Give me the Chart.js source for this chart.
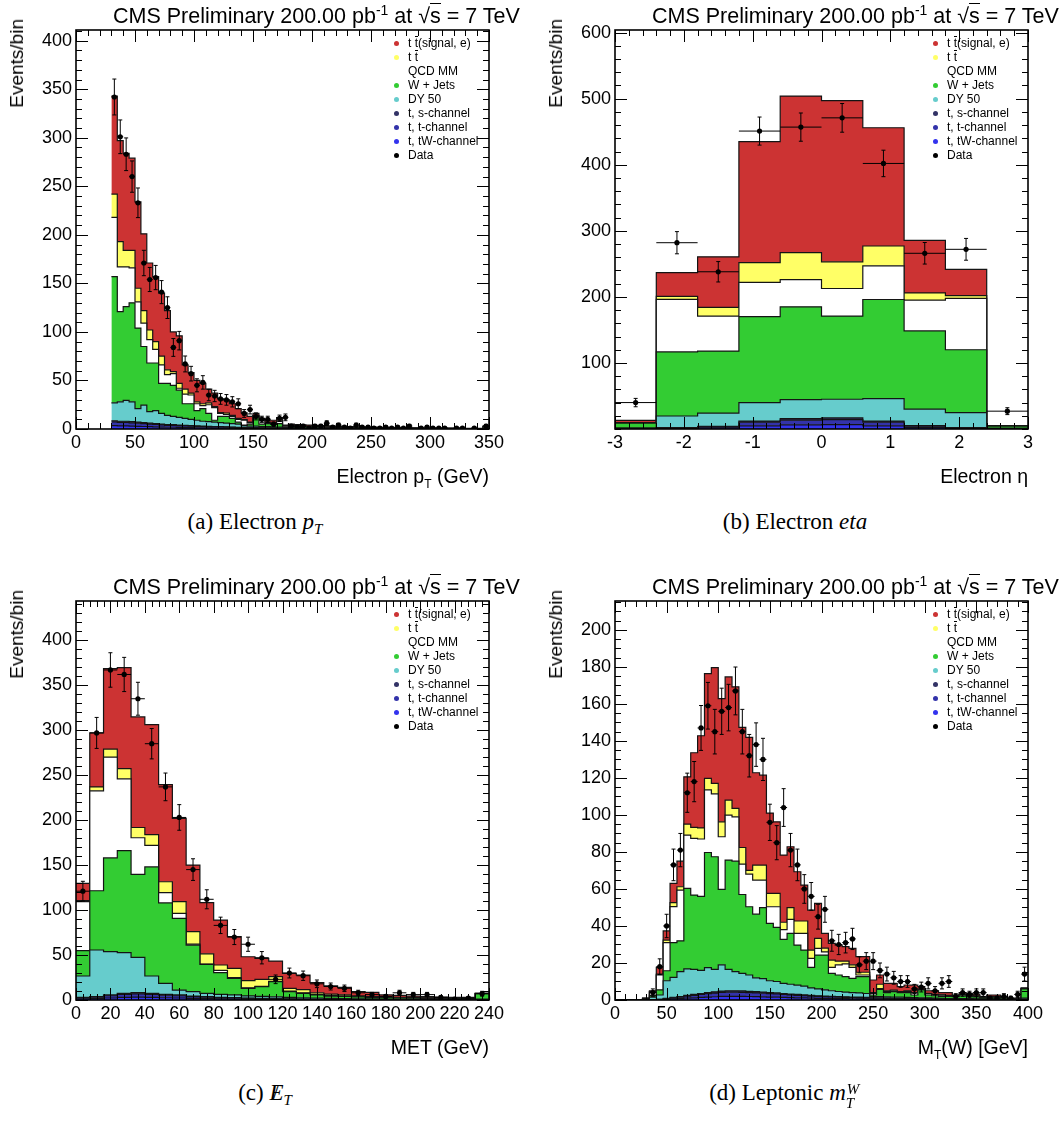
<!DOCTYPE html>
<html>
<head>
<meta charset="utf-8">
<title>CMS Preliminary – electron + jets control plots</title>
<script src="https://cdn.jsdelivr.net/npm/chart.js@4/dist/chart.umd.min.js"></script>
<style>
html,body{margin:0;padding:0;background:#fff;}
body{width:1063px;height:1123px;position:relative;overflow:hidden;font-family:"Liberation Sans",Arial,Helvetica,sans-serif;color:#000;}
.panel{position:absolute;width:531px;height:552px;}
.panel canvas{position:absolute;left:0;top:0;}
.ptitle{position:absolute;left:113px;top:4px;font-size:21.5px;line-height:25px;white-space:nowrap;}
.ptitle .sup{font-size:14px;position:relative;top:-8px;}
.ptitle .rad{border-top:1.5px solid #000;}
.ytitle{position:absolute;left:7px;top:19px;font-size:19px;line-height:20px;writing-mode:vertical-rl;transform:rotate(180deg);white-space:nowrap;}
.xtitle{position:absolute;right:42px;top:465px;font-size:19.5px;line-height:22px;white-space:nowrap;}
.xtitle .sb{font-size:12px;position:relative;top:5px;}
.li{position:absolute;left:408px;font-size:12px;line-height:14px;white-space:nowrap;}
.ov{display:inline-block;position:relative;}
.ov::before{content:"";position:absolute;left:0;right:0;top:0;border-top:1px solid #000;}
.dot{position:absolute;width:5px;height:5px;border-radius:50%;}
.cap{position:absolute;top:508px;font-family:"Liberation Serif","Times New Roman",serif;font-size:23px;line-height:28px;white-space:nowrap;transform:translateX(-50%);}
.cap .csb{font-size:15px;position:relative;top:5px;}
.cap .ss{display:inline-block;position:relative;width:15px;height:10px;}
.cap .ss .u{position:absolute;left:1px;top:-15px;font-size:15px;}
.cap .ss .d{position:absolute;left:0;top:-1px;font-size:15px;}
.cap .met{position:relative;display:inline-block;}
.cap .met .sl{position:absolute;left:3px;top:0;}
</style>
</head>
<body>
<script>
// ---------------- shared series definitions ----------------
const seriesNames = ['t t\u0304(signal, e)', 't t\u0304', 'QCD MM', 'W + Jets', 'DY 50', 't, s-channel', 't, t-channel', 't, tW-channel'];
const seriesColors = ['#cc3333', '#ffff66', '#ffffff', '#33cc33', '#66cccc', '#333366', '#3333aa', '#3333ee'];
const dataName = 'Data';
const plotTitle = 'CMS Preliminary 200.00 pb<span class="sup">-1</span> at \u221A<span class="rad">s</span> = 7 TeV';

// ---------------- (a) Electron pT : 5 GeV bins from 30 to 350 ----------------
const ptBinLow = 30, ptBinWidth = 5;
const ptXTicks = [0, 50, 100, 150, 200, 250, 300, 350];
const ptYTicks = [0, 50, 100, 150, 200, 250, 300, 350, 400];
const ptSignal = [101,104,100,95,89,79,69,67,65,61,41,49,25,21,22,21,14,14,14,13.5,12,10,7,6,2,1.4,2,3,2.7,0.8,
  1.5,1.4,1.3,1.2,1.1,1.0,1.0,0.9,0.9,0.8,0.7,0.7,0.6,0.6,0.6,0.5,0.5,0.5,0.4,0.4,0.4,0.3,0.3,0.3,0.3,0.3,0.3,0.2,0.2,0.2,0.2,0.2,0.2,0.6];
const ptTTbar = [24,26,17,18,14,13,10,8,9,5,2,5,5,2,2,2,2,1,1,1.5,1,1,0.6,0.5,0.3,0.6,0.5,0.5,1,0.2,
  0.3,0.3,0.2,0.2,0.2,0.2,0.2,0.2,0.1,0.1,0.1,0.1,0.1,0.1,0.1,0.1,0.1,0.1,0.1,0.1,0.1,0.1,0.05,0.05,0.05,0.05,0.05,0.05,0.05,0.05,0.05,0.05,0.05,0.1];
const ptQCD = [61,46,41,36,27,24,24,14,19,9,12,2,10,9,7,3,9,13,3,2,2,3,5,1.5,1.3,4,1,0.7,2.5,1,
  0.5,0.4,0.4,0.4,0.3,0.3,0.3,0.3,0.3,0.2,0.2,0.2,0.2,0.2,0.2,0.2,0.2,0.1,0.1,0.1,0.1,0.1,0.1,0.1,0.1,0.1,0.1,0.1,0.1,0.1,0.1,0.1,0.1,0.3];
const ptWJets = [130,93,96.5,102,83,60.5,50,49,31,33,32,28,15,16,10,13,8.5,2,6.5,7,5.5,2,0.5,2,9.4,2.5,3,2.8,3.5,0.5,
  1.6,1.5,1.4,1.3,1.2,1.1,1.0,1.0,0.9,0.9,0.8,0.7,0.7,0.7,0.6,0.6,0.6,0.5,0.5,0.5,0.4,0.4,0.4,0.3,0.3,0.3,0.3,0.3,0.3,0.2,0.2,0.2,0.2,1.7];
const ptDY = [18.5,20,21.5,20.5,14,18,12,13.5,11,9.5,8.5,8,7.2,6.5,5.8,5,4.7,4.4,4.1,3.8,3.5,3.2,1.9,1.5,1.6,1.2,1.3,0.9,1,0.6,
  0.6,0.5,0.5,0.5,0.5,0.4,0.4,0.3,0.3,0.3,0.3,0.3,0.3,0.2,0.2,0.2,0.2,0.2,0.2,0.2,0.2,0.1,0.1,0.1,0.1,0.1,0.1,0.1,0.1,0.1,0.1,0.05,0.05,0.3];
const ptTopS = [1.3,1.2,1.2,1.1,1.0,1.0,0.9,0.8,0.8,0.7,0.7,0.6,0.6,0.5,0.5,0.45,0.4,0.4,0.35,0.3,0.3,0.27,0.24,0.22,0.2,0.2,0.18,0.16,0.15,0.14,
  0.08,0.08,0.08,0.06,0.06,0.06,0.05,0.05,0.05,0.05,0.05,0.03,0.03,0.03,0.03,0.03,0.02,0.02,0.02,0.02,0.02,0.02,0.02,0.02,0.02,0.01,0.01,0.01,0.01,0.01,0.01,0.01,0.01,0.03];
const ptTopT = [3.8,3.6,3.6,3.4,3.2,2.9,2.7,2.5,2.3,2.0,2.0,1.8,1.7,1.6,1.4,1.35,1.25,1.2,1.1,1.0,0.9,0.8,0.7,0.68,0.63,0.6,0.54,0.5,0.45,0.4,
  0.22,0.22,0.22,0.18,0.18,0.18,0.13,0.13,0.13,0.13,0.13,0.09,0.09,0.09,0.09,0.09,0.04,0.04,0.04,0.04,0.04,0.04,0.04,0.04,0.04,0.02,0.02,0.02,0.02,0.02,0.02,0.02,0.02,0.09];
const ptTopTW = [3.4,3.2,3.2,3.0,2.8,2.6,2.4,2.2,1.9,1.8,1.8,1.6,1.5,1.4,1.3,1.2,1.15,1.0,0.95,0.9,0.8,0.73,0.66,0.6,0.57,0.5,0.48,0.44,0.4,0.36,
  0.2,0.2,0.2,0.16,0.16,0.16,0.12,0.12,0.12,0.12,0.12,0.08,0.08,0.08,0.08,0.08,0.04,0.04,0.04,0.04,0.04,0.04,0.04,0.04,0.04,0.02,0.02,0.02,0.02,0.02,0.02,0.02,0.02,0.08];
const ptData = [342,301,283,260,233,171,154,156,141,125,84,91,67,57,45,48,35,34,31,30,28,26,16,20,13,10,10,5,11,12,
  3,2,3,1,3,3,6,2,4,2,1,4,2,2,1,1,2,1,2,1,3,null,1,2,1,1,1,null,1,1,null,1,null,3];

// ---------------- (b) Electron eta : 10 bins ----------------
const etaEdges = [-3, -2.4, -1.8, -1.2, -0.6, 0, 0.6, 1.2, 1.8, 2.4, 3];
const etaXTicks = [-3, -2, -1, 0, 1, 2, 3];
const etaYTicks = [100, 200, 300, 400, 500, 600];
const etaSignal = [3.5,36,76.6,183,237,244,179,79.4,39.5,0.5];
const etaTTbar = [0.3,4.5,13,30,41,40.3,30,11,4.4,0.1];
const etaQCD = [0.2,79.5,53,52,41,41.7,51,46.5,77.6,0.2];
const etaWJets = [7.4,97,94,130,140.5,126,150,118.5,95.2,3.2];
const etaDY = [1,17.7,20,28,28.8,28.3,34,25,22.8,0.8];
const etaTopS = [0.1,0.3,0.6,1.8,2.4,2.5,1.8,0.8,0.3,0.1];
const etaTopT = [0.3,0.9,1.8,5.4,7.0,7.5,5.4,2.2,0.9,0.2];
const etaTopTW = [0.2,0.8,1.6,4.8,6.3,6.7,4.8,2.0,0.8,0.2];
const etaData = [40,282,238,451,457,471,402,266,272,27];

// ---------------- (c) MET : 8 GeV bins from 0 to 240 ----------------
const metBinLow = 0, metBinWidth = 8;
const metXTicks = [0,20,40,60,80,100,120,140,160,180,200,220,240];
const metYTicks = [0,50,100,150,200,250,300,350,400];
const metSignal = [19.2,60,89.5,112.2,123,122.3,108.1,92.6,74,57,50,35.2,26.6,23.3,17.4,16.6,16.3,11.3,9.1,8.3,4.8,4.6,2.4,2.2,1.7,1.3,1.1,1,1.2,0.6];
const metTTbar = [1.1,4.4,9,11.4,11.4,12,12.2,13,13.8,11.4,5.9,10.2,8,7.7,5.1,3.2,3.6,2,1.7,1.5,0.7,0.7,0.5,0.6,0.5,0.4,0.4,0.4,0.3,0.1];
const metQCD = [54.5,111.1,112,80,40.8,24,11.3,5.6,1.2,0.3,2.6,1,0.5,0.5,0.4,0.5,0.5,0.4,0.4,0.3,0.3,0.2,0.2,0.2,0.2,0.2,0.2,0.2,0.2,0.1];
const metWJets = [28.1,65.9,104.3,113.4,92.2,121.3,89.5,79.7,51.7,32.2,24.1,18.4,8.5,10.8,16.9,6.3,4.9,3.4,2.5,2.4,2.1,1.8,1.5,1.3,1.2,1.1,1,0.9,0.9,6];
const metDY = [23.7,51.9,48.1,45.2,39.3,19.3,12.2,5.4,4.9,3.7,3.3,3,2.3,2.1,1.9,1.7,1.4,1.3,1.1,0.9,0.8,0.7,0.6,0.55,0.5,0.45,0.4,0.3,0.25,0.6];
const metTopS = [0.45,0.55,0.85,1.1,1.2,1.1,0.95,0.85,0.65,0.55,0.45,0.4,0.33,0.28,0.24,0.2,0.17,0.14,0.12,0.1,0.09,0.08,0.06,0.05,0.05,0.04,0.03,0.03,0.02,0.06];
const metTopT = [1.35,1.65,2.5,3.35,3.65,3.35,2.85,2.5,2,1.65,1.35,1.17,1,0.85,0.72,0.58,0.5,0.4,0.36,0.32,0.27,0.22,0.18,0.16,0.13,0.11,0.09,0.09,0.07,0.18];
const metTopTW = [1.2,1.5,2.25,2.95,3.25,2.95,2.5,2.25,1.75,1.5,1.2,1.03,0.87,0.77,0.64,0.52,0.43,0.36,0.32,0.28,0.24,0.2,0.16,0.14,0.12,0.1,0.08,0.08,0.06,0.16];
const metData = [121,297,367,362,335,285,237,203,145,112,83,70,62,47,23,30,27,18,15,13,8,6,4,8,6,6,3,1,2,7];

// ---------------- (d) leptonic MT(W) : 60 bins from 0 to 400 ----------------
const mtBinLow = 0, mtBinWidth = 400 / 60;
const mtXTicks = [0,50,100,150,200,250,300,350,400];
const mtYTicks = [0,20,40,60,80,100,120,140,160,180,200];
const mtSignal = [0,0,0,0,0.1,0.5,3.6,4.9,10.4,13.8,25.6,40.3,49.8,56.6,62.6,66.6,66.6,65.7,64.9,71.9,49.9,48.6,43.4,38.7,36.3,32.9,26.6,19.4,21.6,18.9,8,9,8.7,7.8,8.9,8.4,8.4,6.8,5,4,3.6,2.7,3.1,4,1.2,1.4,1.9,1.2,1.5,0.5,1,1,1,0.3,0.7,0.7,0.4,0.2,0.2,0.2];
const mtTTbar = [0,0,0,0,0.05,0.2,0.5,1.4,2.1,1.8,5.9,6,6,6.3,5.6,8.1,8.1,4.5,9,2,8.1,8.1,7.2,7.2,4,6.3,6.7,6.7,4.5,5.4,2,4,2,1.5,1.4,1.5,1.5,0.4,2.4,0.5,0.4,0.3,0.3,0.2,0.4,0.2,0.1,0.2,0.1,0.1,0.1,0.1,0.1,0.1,0.1,0.1,0.1,0.05,0.05,0.1];
const mtQCD = [0,0,0,0,0.35,1.8,8,15.2,19.5,27.4,28.8,30.6,31,33.8,34,28.4,24.3,24,16.4,17.6,18.4,14.9,9,11.2,5.2,7.6,6.3,9,4.9,3.6,1.7,3.2,5.5,6.9,5.9,0.9,0.9,0.9,0.4,0.5,0.5,0.2,0.7,1.1,0.2,0.7,0.6,0.6,0.5,0.3,0.6,0.5,0.4,0.2,0.4,0.4,0.2,0.15,0.15,0.2];
const mtWJets = [0,0,0,0,0.2,1,2.8,5.4,18.8,16.7,43.5,40.1,40,62.2,60.8,40.8,59,59.7,42.6,36.9,34.4,38.4,31,29.2,23.8,27.5,21.7,19.5,11.1,18.3,18.8,9.4,8.9,8.3,7.7,8.8,9.1,0.9,3.9,2.3,2.9,2.5,2.6,1.4,4.2,1.6,1.3,1.1,1.1,1,1.6,1.3,1.1,0.6,1,1,0.6,0.2,0.2,5];
const mtDY = [0,0,0,0,0.25,1.3,2.3,9.5,10.8,13.5,14.3,13.6,12.5,13.5,12.2,14.2,11.6,10.3,9.5,8.8,7.5,7.2,6.4,6.2,5.5,5.3,5,4.7,4,3.7,3.4,3,2.8,2.6,2.4,2.3,2.1,0.6,0.7,0.7,0.7,0.6,0.6,0.5,0.5,0.4,0.4,0.3,0.3,0.3,0.2,0.3,0.2,0.2,0.2,0.2,0.2,0.1,0.2,0.6];
const mtTopS = [0,0,0,0,0.01,0.03,0.06,0.13,0.2,0.27,0.37,0.45,0.52,0.6,0.66,0.72,0.75,0.75,0.73,0.7,0.67,0.64,0.6,0.57,0.52,0.48,0.45,0.42,0.37,0.34,0.31,0.3,0.27,0.25,0.24,0.22,0.21,0.18,0.16,0.15,0.13,0.13,0.12,0.12,0.1,0.1,0.09,0.09,0.07,0.07,0.07,0.06,0.06,0.06,0.04,0.04,0.04,0.04,0.03,0.06];
const mtTopT = [0,0,0,0,0.02,0.09,0.18,0.4,0.63,0.81,1.12,1.35,1.58,1.8,1.98,2.16,2.25,2.25,2.2,2.12,2.02,1.94,1.8,1.71,1.58,1.44,1.35,1.26,1.12,1.04,0.94,0.9,0.81,0.76,0.72,0.68,0.63,0.54,0.5,0.45,0.4,0.4,0.36,0.36,0.32,0.32,0.27,0.27,0.23,0.23,0.23,0.18,0.18,0.18,0.13,0.13,0.13,0.13,0.09,0.18];
const mtTopTW = [0,0,0,0,0.02,0.08,0.16,0.37,0.57,0.72,1.01,1.2,1.4,1.6,1.76,1.92,2,2,1.97,1.88,1.81,1.72,1.6,1.52,1.4,1.28,1.2,1.12,1.01,0.92,0.85,0.8,0.72,0.69,0.64,0.6,0.56,0.48,0.44,0.4,0.37,0.37,0.32,0.32,0.28,0.28,0.24,0.24,0.2,0.2,0.2,0.16,0.16,0.16,0.13,0.13,0.13,0.13,0.08,0.16];
const mtData = [null,null,null,null,null,4,18,40,73,81,112,118,147,159,145,156,158,167,145,132,138,130,96,85,104,81,73,60,56,45,49,32,30,31,33,19,21,21,16,14,12,10,10,6,7,9,5,9,10,2,4,3,4,4,1,1,2,1,3,14];

// ---------------- helpers ----------------
function binEdges(low, width, n) { const e = []; for (let i = 0; i <= n; i++) e.push(low + i * width); return e; }

const rootStyle = {
  id: 'rootStyle',
  afterDatasetsDraw(chart) {
    const {ctx, chartArea: a} = chart;
    const xs = chart.scales.x, ys = chart.scales.y;
    chart.data.datasets.forEach((ds) => {
      if (!ds.errorBars) return;
      ctx.save();
      ctx.beginPath(); ctx.rect(a.left, a.top, a.right - a.left, a.bottom - a.top); ctx.clip();
      ctx.strokeStyle = '#000'; ctx.lineWidth = 1;
      ctx.beginPath();
      ds.data.forEach((pt, i) => {
        if (pt.y == null) return;
        const xl = xs.getPixelForValue(ds.binEdges[i]), xr = xs.getPixelForValue(ds.binEdges[i + 1]);
        const xc = xs.getPixelForValue(pt.x), yc = ys.getPixelForValue(pt.y);
        const err = Math.sqrt(pt.y);
        const yt = ys.getPixelForValue(pt.y + err), yb = ys.getPixelForValue(Math.max(pt.y - err, 0));
        ctx.moveTo(xl, yc); ctx.lineTo(xr, yc);
        ctx.moveTo(xc, yt); ctx.lineTo(xc, yb);
        ctx.moveTo(xc - 2, yt); ctx.lineTo(xc + 2, yt);
        ctx.moveTo(xc - 2, yb); ctx.lineTo(xc + 2, yb);
      });
      ctx.stroke();
      ctx.restore();
    });
  },
  afterDraw(chart, args, opts) {
    const {ctx, chartArea: a} = chart;
    const xs = chart.scales.x, ys = chart.scales.y;
    const maj = 12, mnr = 6;
    ctx.save();
    ctx.strokeStyle = '#000'; ctx.lineWidth = 1;
    ctx.beginPath();
    const each = (scale, step, fn) => {
      const k0 = Math.ceil(scale.min / step - 1e-6), k1 = Math.floor(scale.max / step + 1e-6);
      for (let k = k0; k <= k1; k++) fn(Math.round(scale.getPixelForValue(k * step)) + 0.5);
    };
    const vx = (px, len) => { ctx.moveTo(px, a.bottom); ctx.lineTo(px, a.bottom - len); ctx.moveTo(px, a.top); ctx.lineTo(px, a.top + len); };
    const hy = (py, len) => { ctx.moveTo(a.left, py); ctx.lineTo(a.left + len, py); ctx.moveTo(a.right, py); ctx.lineTo(a.right - len, py); };
    each(xs, opts.xMinor, px => vx(px, mnr));
    xs.ticks.forEach(t => vx(Math.round(xs.getPixelForValue(t.value)) + 0.5, maj));
    each(ys, opts.yMinor, py => hy(py, mnr));
    ys.ticks.forEach(t => hy(Math.round(ys.getPixelForValue(t.value)) + 0.5, maj));
    ctx.stroke();
    ctx.lineWidth = 1.6;
    ctx.strokeRect(a.left, a.top, a.right - a.left, a.bottom - a.top);
    ctx.restore();
  }
};

function legendLabel(name) {
  return name.replace(/t\u0304/g, '<span class="ov">t</span>');
}

function makePanel(p) {
  const panel = document.createElement('div');
  panel.className = 'panel';
  panel.style.left = p.left + 'px';
  panel.style.top = p.top + 'px';
  document.body.appendChild(panel);

  const canvas = document.createElement('canvas');
  canvas.width = 531; canvas.height = 470;
  canvas.style.width = '531px'; canvas.style.height = '470px';
  panel.appendChild(canvas);

  const n = p.values[0].length;
  const edges = p.edges;
  const centers = edges.slice(0, -1).map((e, i) => (e + edges[i + 1]) / 2);
  const stackOrder = [7, 6, 5, 4, 3, 2, 1, 0]; // bottom -> top
  const datasets = stackOrder.map((si, k) => ({
    type: 'line',
    label: seriesNames[si],
    stack: 'mc',
    data: edges.map((e, i) => ({x: e, y: p.values[si][Math.min(i, n - 1)]})),
    stepped: true,
    fill: k === 0 ? 'origin' : '-1',
    backgroundColor: seriesColors[si],
    borderColor: '#141414',
    borderWidth: 1.2,
    pointRadius: 0,
    pointHoverRadius: 0,
    order: 1
  }));
  datasets.push({
    type: 'line',
    label: dataName,
    stack: 'obs',
    data: centers.map((c, i) => ({x: c, y: p.data[i]})),
    showLine: false,
    pointRadius: 2.6,
    pointHoverRadius: 2.6,
    pointBackgroundColor: '#000',
    pointBorderColor: '#000',
    pointBorderWidth: 0,
    order: 0,
    errorBars: true,
    binEdges: edges
  });

  const tickFont = {family: '"Liberation Sans", Arial, sans-serif', size: 18};
  new Chart(canvas, {
    type: 'line',
    data: {datasets},
    options: {
      responsive: false,
      animation: false,
      devicePixelRatio: 1,
      events: [],
      layout: {padding: {left: 0, top: 30, right: 42, bottom: 0}},
      plugins: {legend: {display: false}, tooltip: {enabled: false}, title: {display: false},
                rootStyle: {xMinor: p.xMinor, yMinor: p.yMinor}},
      scales: {
        x: {
          type: 'linear', min: p.xmin, max: p.xmax,
          afterBuildTicks: s => { s.ticks = p.xTicks.map(v => ({value: v})); },
          afterFit: s => { s.height = 41; },
          grid: {display: false, drawTicks: false}, border: {display: false},
          ticks: {autoSkip: false, maxRotation: 0, minRotation: 0, padding: 3, font: tickFont, color: '#000'}
        },
        y: {
          type: 'linear', stacked: true, min: 0, max: p.ymax,
          afterBuildTicks: s => { s.ticks = p.yTicks.map(v => ({value: v})); },
          afterFit: s => { s.width = 76; },
          grid: {display: false, drawTicks: false}, border: {display: false},
          ticks: {padding: 4, font: tickFont, color: '#000'}
        }
      }
    },
    plugins: [rootStyle]
  });

  const t = document.createElement('div'); t.className = 'ptitle'; t.innerHTML = plotTitle; panel.appendChild(t);
  const yt = document.createElement('div'); yt.className = 'ytitle'; yt.textContent = 'Events/bin'; panel.appendChild(yt);
  const xt = document.createElement('div'); xt.className = 'xtitle'; xt.innerHTML = p.xTitle; panel.appendChild(xt);

  const legendItems = seriesNames.map((nm, i) => ({nm, col: seriesColors[i]})).concat([{nm: dataName, col: '#000'}]);
  legendItems.forEach((it, i) => {
    const yc = 43 + i * 14.0;
    const d = document.createElement('div'); d.className = 'dot';
    d.style.left = (396 - 2.5) + 'px'; d.style.top = (yc - 2.5) + 'px'; d.style.background = it.col;
    panel.appendChild(d);
    const l = document.createElement('div'); l.className = 'li';
    l.style.top = (yc - 7) + 'px'; l.innerHTML = legendLabel(it.nm);
    panel.appendChild(l);
  });

  const cap = document.createElement('div'); cap.className = 'cap';
  cap.style.left = p.capCenter + 'px'; cap.innerHTML = p.caption; panel.appendChild(cap);
}

makePanel({
  left: 0, top: 0,
  edges: binEdges(ptBinLow, ptBinWidth, ptSignal.length),
  values: [ptSignal, ptTTbar, ptQCD, ptWJets, ptDY, ptTopS, ptTopT, ptTopTW], data: ptData,
  xmin: 0, xmax: 350, ymax: 411, xTicks: ptXTicks, yTicks: ptYTicks, xMinor: 10, yMinor: 10,
  xTitle: 'Electron p<span class="sb">T</span> (GeV)',
  caption: '(a) Electron <i>p</i><span class="csb"><i>T</i></span>', capCenter: 255
});
makePanel({
  left: 539, top: 0,
  edges: etaEdges,
  values: [etaSignal, etaTTbar, etaQCD, etaWJets, etaDY, etaTopS, etaTopT, etaTopTW], data: etaData,
  xmin: -3, xmax: 3, ymax: 604, xTicks: etaXTicks, yTicks: etaYTicks, xMinor: 0.2, yMinor: 20,
  xTitle: 'Electron \u03B7',
  caption: '(b) Electron <i>eta</i>', capCenter: 256
});
makePanel({
  left: 0, top: 571,
  edges: binEdges(metBinLow, metBinWidth, metSignal.length),
  values: [metSignal, metTTbar, metQCD, metWJets, metDY, metTopS, metTopT, metTopTW], data: metData,
  xmin: 0, xmax: 240, ymax: 443.7, xTicks: metXTicks, yTicks: metYTicks, xMinor: 4, yMinor: 10,
  xTitle: 'MET (GeV)',
  caption: '(c) <span class="met"><i>E</i><span class="sl">/</span></span><span class="csb"><i>T</i></span>', capCenter: 265
});
makePanel({
  left: 539, top: 571,
  edges: binEdges(mtBinLow, mtBinWidth, mtSignal.length),
  values: [mtSignal, mtTTbar, mtQCD, mtWJets, mtDY, mtTopS, mtTopT, mtTopTW], data: mtData,
  xmin: 0, xmax: 400, ymax: 215.6, xTicks: mtXTicks, yTicks: mtYTicks, xMinor: 10, yMinor: 5,
  xTitle: 'M<span class="sb">T</span>(W) [GeV]',
  caption: '(d) Leptonic <i>m</i><span class="ss"><span class="u"><i>W</i></span><span class="d"><i>T</i></span></span>', capCenter: 246
});
</script>
</body>
</html>
